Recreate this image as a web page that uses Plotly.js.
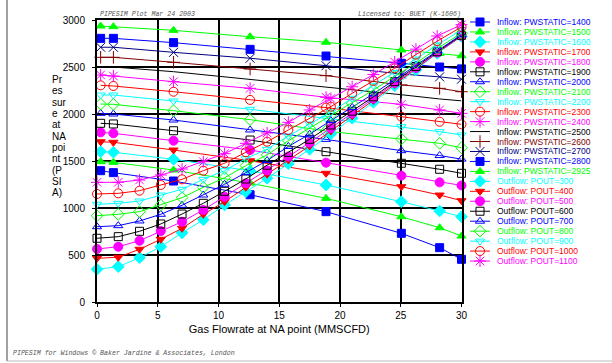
<!DOCTYPE html>
<html><head><meta charset="utf-8">
<script src="https://cdn.plot.ly/plotly-3.0.1.min.js"></script>
<style>html,body{margin:0;padding:0;background:#fff;} #chart{width:612px;height:363px;}</style>
</head><body><div id="chart"></div>
<script>
// ---------- DATA ----------
const inflowX = [0.3, 1.35, 6.3, 12.6, 18.85, 25.05, 28.2, 30];
const outflowX = [0, 1.75, 3.5, 5.25, 7, 8.75, 10.5, 12.25, 14, 15.75, 17.5, 19.25, 21, 22.75, 24.5, 26.25, 28, 30];

const inflow1400 = [1397,1376,1287,1141,961,731,578,454];
const inflow1500 = [1493,1486,1404,1265,1103,907,790,702];
const inflow1600 = [1599,1593,1518,1395,1245,1067,968,907];
const inflow1700 = [1705,1699,1617,1503,1369,1227,1138,1078];
const inflow1800 = [1805,1795,1716,1617,1482,1344,1273,1240];
const inflow1900 = [1901,1894,1822,1723,1599,1476,1412,1369];
const inflow2000 = [2007,2000,1936,1830,1730,1610,1558,1520];
const inflow2100 = [2106,2103,2035,1940,1819,1734,1688,1641];
const inflow2200 = [2202,2202,2138,2050,1954,1865,1812,1777];
const inflow2300 = [2305,2298,2237,2150,2068,1971,1918,1890];
const inflow2400 = [2415,2404,2344,2273,2178,2103,2043,2007];
const inflow2500 = [2505,2500,2450,2370,2290,2205,2160,2140];
const inflow2600 = [2603,2603,2550,2479,2408,2309,2273,2237];
const inflow2700 = [2710,2710,2656,2593,2514,2425,2395,2370];
const inflow2800 = [2805,2805,2759,2688,2617,2540,2500,2480];
const inflow2925 = [2936,2929,2890,2822,2763,2681,2645,2620];

const outflow300  = [348,376,471,588,735,875,1032,1173,1316,1470,1625,1790,1955,2125,2300,2470,2645,2825];
const outflow400  = [465,476,561,667,784,933,1067,1220,1360,1510,1660,1820,1980,2145,2315,2480,2650,2828];
const outflow500  = [564,588,652,755,854,979,1120,1263,1400,1548,1695,1850,2005,2165,2330,2490,2655,2832];
const outflow600  = [678,695,752,830,936,1050,1178,1309,1455,1592,1731,1883,2030,2183,2344,2505,2662,2837];
const outflow700  = [801,812,862,933,1029,1138,1252,1376,1505,1655,1785,1930,2070,2215,2365,2520,2675,2845];
const outflow800  = [918,933,961,1032,1110,1220,1322,1450,1565,1715,1848,1990,2114,2255,2400,2540,2697,2860];
const outflow900  = [1039,1050,1074,1138,1199,1305,1397,1525,1625,1766,1894,2020,2167,2305,2440,2585,2735,2895];
const outflow1000 = [1149,1156,1184,1245,1305,1397,1476,1593,1705,1830,1954,2078,2220,2352,2486,2632,2775,2926];
const outflow1100 = [1273,1273,1298,1351,1415,1493,1578,1688,1798,1911,2043,2165,2290,2420,2553,2690,2830,2950];

const xTitle = 'Gas Flowrate at NA point (MMSCFD)';
const yTitlePieces = ['Pr','es','sur','e','at','NA','poi','nt','(P','SI','A)'];
const headerLeft = 'PIPESIM Plot Mar 24 2003';
const headerRight = 'Licensed to: BUET (K-1606)';
const footer = 'PIPESIM for Windows \u00A9 Baker Jardine & Associates, London';

// ---------- SERIES SPECS ----------
const series = [
  {name:'Inflow: PWSTATIC=1400', x:inflowX, y:inflow1400, color:'#0000ff', symbol:'square', size:8},
  {name:'Inflow: PWSTATIC=1500', x:inflowX, y:inflow1500, color:'#00ff00', symbol:'triangle-up', size:8},
  {name:'Inflow: PWSTATIC=1600', x:inflowX, y:inflow1600, color:'#00ffff', symbol:'diamond', size:9},
  {name:'Inflow: PWSTATIC=1700', x:inflowX, y:inflow1700, color:'#ff0000', symbol:'triangle-down', size:8},
  {name:'Inflow: PWSTATIC=1800', x:inflowX, y:inflow1800, color:'#ff00ff', symbol:'circle', size:9},
  {name:'Inflow: PWSTATIC=1900', x:inflowX, y:inflow1900, color:'#000000', symbol:'square-open', size:8},
  {name:'Inflow: PWSTATIC=2000', x:inflowX, y:inflow2000, color:'#0000ff', symbol:'triangle-up-open', size:8},
  {name:'Inflow: PWSTATIC=2100', x:inflowX, y:inflow2100, color:'#00ff00', symbol:'diamond-open', size:9},
  {name:'Inflow: PWSTATIC=2200', x:inflowX, y:inflow2200, color:'#00ffff', symbol:'triangle-down-open', size:8},
  {name:'Inflow: PWSTATIC=2300', x:inflowX, y:inflow2300, color:'#ff0000', symbol:'circle-open', size:9},
  {name:'Inflow: PWSTATIC=2400', x:inflowX, y:inflow2400, color:'#ff00ff', symbol:'asterisk-open', size:10},
  {name:'Inflow: PWSTATIC=2500', x:inflowX, y:inflow2500, color:'#000000', symbol:null, size:0},
  {name:'Inflow: PWSTATIC=2600', x:inflowX, y:inflow2600, color:'#800000', symbol:'cross-thin-open', size:9},
  {name:'Inflow: PWSTATIC=2700', x:inflowX, y:inflow2700, color:'#000080', symbol:'x-thin-open', size:9},
  {name:'Inflow: PWSTATIC=2800', x:inflowX, y:inflow2800, color:'#0000ff', symbol:'square', size:8},
  {name:'Inflow: PWSTATIC=2925', x:inflowX, y:inflow2925, color:'#00ff00', symbol:'triangle-up', size:8},
  {name:'Outflow: POUT=300',  x:outflowX, y:outflow300,  color:'#00ffff', symbol:'diamond', size:9},
  {name:'Outflow: POUT=400',  x:outflowX, y:outflow400,  color:'#ff0000', symbol:'triangle-down', size:8},
  {name:'Outflow: POUT=500',  x:outflowX, y:outflow500,  color:'#ff00ff', symbol:'circle', size:9},
  {name:'Outflow: POUT=600',  x:outflowX, y:outflow600,  color:'#000000', symbol:'square-open', size:8},
  {name:'Outflow: POUT=700',  x:outflowX, y:outflow700,  color:'#0000ff', symbol:'triangle-up-open', size:8},
  {name:'Outflow: POUT=800',  x:outflowX, y:outflow800,  color:'#00ff00', symbol:'diamond-open', size:9},
  {name:'Outflow: POUT=900',  x:outflowX, y:outflow900,  color:'#00ffff', symbol:'triangle-down-open', size:8},
  {name:'Outflow: POUT=1000', x:outflowX, y:outflow1000, color:'#ff0000', symbol:'circle-open', size:9},
  {name:'Outflow: POUT=1100', x:outflowX, y:outflow1100, color:'#ff00ff', symbol:'asterisk-open', size:10}
];

// ---------- GEOMETRY (layout only) ----------
const W = 612, H = 363;
const M = {l:97, r:0, t:20, b:61};
const PW = W - M.l - M.r, PH = H - M.t - M.b;
const plotRightPx = 461.5;
const px2paperX = px => (px - M.l) / PW;
const px2paperY = py => (H - M.b - py) / PH;
const legStartPx = 466;

const traces = [];
const FONT = 'Arial, "Liberation Sans", sans-serif';

function makeTrace(s, x, y, axX, axY, legend) {
  const t = {
    type:'scatter', x:x, y:y,
    mode: s.symbol ? 'lines+markers' : 'lines',
    line:{color:s.color, width:1},
    cliponaxis:false, showlegend:false, hoverinfo:'skip', xaxis:axX, yaxis:axY
  };
  if (s.symbol) {
    t.marker = {symbol:s.symbol, size:s.size, color:s.color, line:{color:s.color, width:1}};
    if (legend) t.marker.opacity = [0,1,0];
  }
  return t;
}

series.forEach(s => traces.push(makeTrace(s, s.x, s.y, 'x', 'y', false)));

// manual legend (hidden auxiliary axes in pixel units)
const annotations = [];
const legStep = 9.96, legTop = 2;
series.forEach((s, i) => {
  const v = legTop + legStep * i;
  traces.push(makeTrace(s, [4, 14, 24], [v, v, v], 'x2', 'y2', true));
  annotations.push({xref:'x2', yref:'y2', x:29, y:v, xanchor:'left', yanchor:'middle', showarrow:false,
    text:s.name, font:{family:FONT, size:8.5, color:s.color}});
});

// y title pieces
yTitlePieces.forEach((t, i) => {
  annotations.push({xref:'paper', yref:'paper', x:px2paperX(50), y:px2paperY(79.5 + 11.35*i),
    xanchor:'left', yanchor:'middle', showarrow:false, text:t, font:{family:FONT, size:10, color:'#000'}});
});
// header / footer
const MONO = '"Liberation Mono", "Courier New", monospace';
annotations.push({xref:'paper', yref:'paper', x:px2paperX(98), y:px2paperY(14), xanchor:'left', yanchor:'middle',
  showarrow:false, text:'<i>'+headerLeft+'</i>', font:{family:MONO, size:6.6, color:'#555'}});
annotations.push({xref:'paper', yref:'paper', x:px2paperX(463), y:px2paperY(14), xanchor:'right', yanchor:'middle',
  showarrow:false, text:'<i>'+headerRight+'</i>', font:{family:MONO, size:6.6, color:'#555'}});
annotations.push({xref:'paper', yref:'paper', x:px2paperX(11), y:px2paperY(353), xanchor:'left', yanchor:'middle',
  showarrow:false, text:'<i>'+footer+'</i>', font:{family:MONO, size:6.6, color:'#555'}});

const shapes = [
  {type:'line', xref:'paper', yref:'paper', x0:px2paperX(7), x1:px2paperX(7), y0:px2paperY(0), y1:px2paperY(361), line:{color:'#444', width:1}},
  {type:'line', xref:'paper', yref:'paper', x0:px2paperX(7), x1:px2paperX(612), y0:px2paperY(361), y1:px2paperY(361), line:{color:'#bbb', width:1}}
];

const axisCommon = {
  showline:true, mirror:true, linecolor:'#000', linewidth:2,
  showgrid:true, gridcolor:'#000', gridwidth:2, zeroline:false,
  ticks:'outside', ticklen:3, tickwidth:1, tickcolor:'#000',
  tickfont:{family:FONT, size:10, color:'#000'}
};

const layout = {
  width:W, height:H, margin:M, paper_bgcolor:'#fff', plot_bgcolor:'#fff', showlegend:false,
  xaxis: Object.assign({}, axisCommon, {domain:[0, (plotRightPx - M.l)/PW], range:[0,30], tickvals:[0,5,10,15,20,25,30], anchor:'y',
    title:{text:xTitle, font:{family:FONT, size:11, color:'#000'}, standoff:5}}),
  yaxis: Object.assign({}, axisCommon, {domain:[0,1], range:[0,3000], tickvals:[0,500,1000,1500,2000,2500,3000], anchor:'x', ticklabelstandoff:5}),
  xaxis2: {domain:[(legStartPx - M.l)/PW, 1], range:[0, W - legStartPx], visible:false, anchor:'y2', fixedrange:true},
  yaxis2: {domain:[0,1], range:[PH, 0], visible:false, anchor:'x2', fixedrange:true},
  annotations, shapes
};

Plotly.newPlot('chart', traces, layout, {staticPlot:true, displayModeBar:false});
</script>
</body></html>
